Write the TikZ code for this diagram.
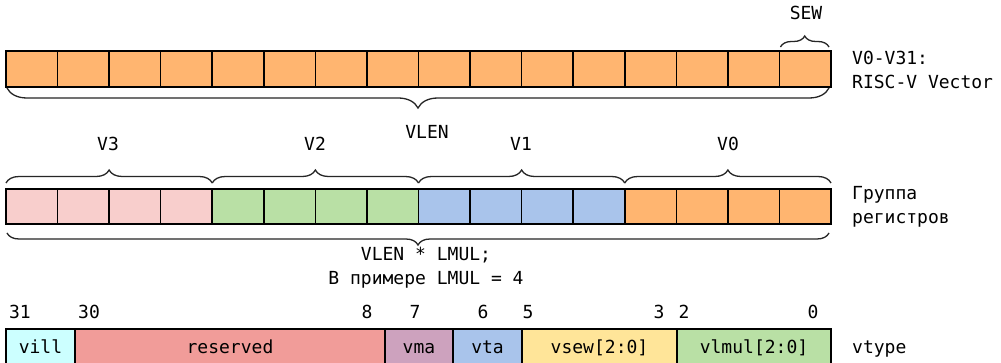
\documentclass[tikz,border=0pt]{standalone}
\usepackage{fontspec}
\setmainfont{DejaVu Sans Mono}
\usetikzlibrary{decorations.pathreplacing}

\definecolor{regorange}{HTML}{FFB570}
\definecolor{regpink}{HTML}{F8CECC}
\definecolor{reggreen}{HTML}{B9E0A5}
\definecolor{regblue}{HTML}{A9C4EB}
\definecolor{fcyan}{HTML}{CCFFFF}
\definecolor{fred}{HTML}{F19C99}
\definecolor{fpurple}{HTML}{CDA2BE}
\definecolor{fyellow}{HTML}{FFE599}

\begin{document}
\begin{tikzpicture}[x=1pt,y=-1pt,
  every node/.style={font=\fontsize{18pt}{24.5pt}\selectfont},
  cell/.style={draw=black, line width=1.6pt, inner sep=0pt, outer sep=0pt,
    minimum width=51.5625pt, anchor=north west},
  field/.style={draw=black, line width=1.6pt, inner sep=0pt, outer sep=0pt,
    minimum height=36pt, anchor=north west, text height=12pt, text depth=0pt},
  lbl/.style={inner sep=0pt, anchor=base},
  side/.style={inner sep=0pt, anchor=base west, align=left},
  brace/.style={draw=black!85, line width=1.3pt, decorate,
    decoration={brace, amplitude=#1}},
]
\clip (0,0) rectangle (1001,363);
\fill[white] (0,0) rectangle (1001,363);

% single register V0..V31
\foreach \i in {1,...,16}
  \node[cell, minimum height=36pt, fill=regorange] (a\i) at ({6+(\i-1)*51.5625}, 51) {};

% register group, LMUL = 4
\foreach \i in {1,...,16}{
  \ifnum\i<5 \def\cc{regpink}\else\ifnum\i<9 \def\cc{reggreen}\else\ifnum\i<13 \def\cc{regblue}\else\def\cc{regorange}\fi\fi\fi
  \node[cell, minimum height=35pt, fill=\cc] (b\i) at ({6+(\i-1)*51.5625}, 189) {};
}

% braces, row 1
\draw[brace=11pt] ([xshift=1pt,yshift=4pt]a16.north west) -- ([xshift=-2pt,yshift=4pt]a16.north east);
\node[lbl] (sew) at (806,20) {SEW};
\draw[brace=20pt] ([xshift=-2pt,yshift=-1pt]a16.south east) -- ([xshift=1pt,yshift=-1pt]a1.south west);
\node[lbl] (vlen) at (427,139) {VLEN};
% multi-line nodes: the base anchor sits on the last line
\node[side] (vname) at (852,89) {V0-V31:\\RISC-V Vector};

% braces, row 2
\draw[brace=13pt] ([yshift=6pt]b1.north west) -- ([yshift=6pt]b4.north east);
\draw[brace=13pt] ([yshift=6pt]b5.north west) -- ([yshift=6pt]b8.north east);
\draw[brace=13pt] ([yshift=6pt]b9.north west) -- ([yshift=6pt]b12.north east);
\draw[brace=13pt] ([yshift=6pt]b13.north west) -- ([yshift=6pt]b16.north east);
\node[lbl] (v3) at (108,151) {V3};
\node[lbl] (v2) at (315,151) {V2};
\node[lbl] (v1) at (521,151) {V1};
\node[lbl] (v0) at (728,151) {V0};
\draw[brace=12pt] ([xshift=-2pt,yshift=-9pt]b16.south east) -- ([xshift=1pt,yshift=-9pt]b1.south west);
\node[lbl, align=center] (lmul) at (426,285) {VLEN * LMUL;\\В примере LMUL = 4};
\node[side] (grp) at (852,224) {Группа\\регистров};

% vtype fields
\node[field, minimum width=69pt, fill=fcyan] (vill) at (6,329) {vill};
\node[field, minimum width=310pt, fill=fred] (res) at (75,329) {reserved};
\node[field, minimum width=68pt, fill=fpurple] (vma) at (385,329) {vma};
\node[field, minimum width=69pt, fill=regblue] (vta) at (453,329) {vta};
\node[field, minimum width=155pt, fill=fyellow] (vsew) at (522,329) {vsew[2:0]};
\node[field, minimum width=154pt, fill=reggreen] (vlmul) at (677,329) {vlmul[2:0]};
\node[lbl, anchor=base west] (vtype) at (852,353) {vtype};

% bit numbers
\node[lbl] (n31) at (20,319) {31};
\node[lbl] (n30) at (89,319) {30};
\node[lbl] (n8) at (367,319) {8};
\node[lbl] (n7) at (415,319) {7};
\node[lbl] (n6) at (483,319) {6};
\node[lbl] (n5) at (528,319) {5};
\node[lbl] (n3) at (659,319) {3};
\node[lbl] (n2) at (684,319) {2};
\node[lbl] (n0) at (813,319) {0};
\end{tikzpicture}
\end{document}
